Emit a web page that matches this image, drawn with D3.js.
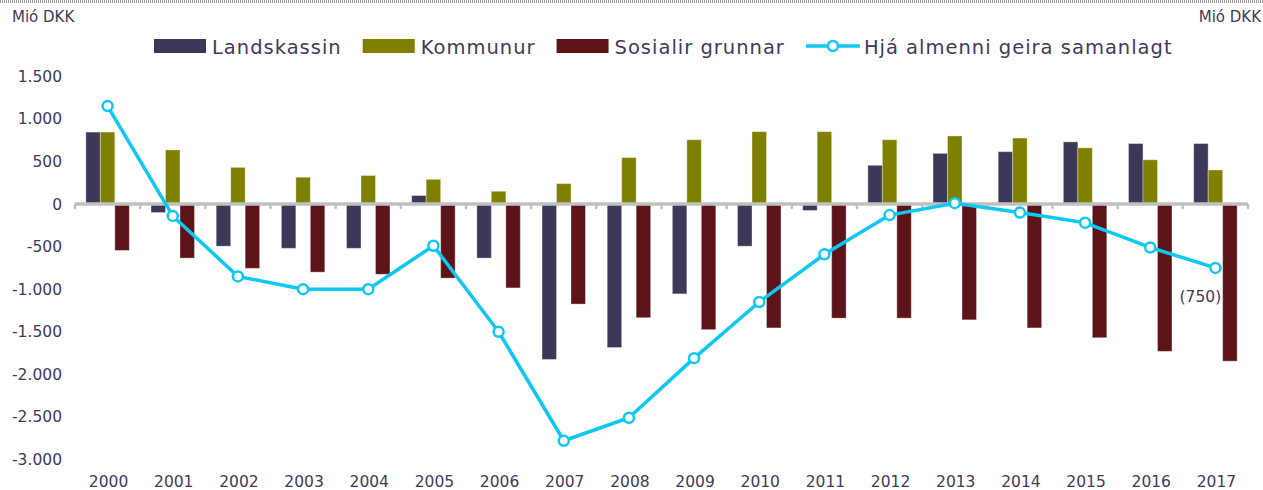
<!DOCTYPE html>
<html>
<head>
<meta charset="utf-8">
<script src="https://cdn.jsdelivr.net/npm/d3@7"></script>
<style>
  body { margin: 0; background: #fff; }
  text { font-family: "DejaVu Sans", Verdana, sans-serif; fill: #403b5c; }
</style>
</head>
<body>
<svg id="mainSVG" width="1263" height="490"></svg>
<script>
// Data (Mió DKK)
var years = ["2000","2001","2002","2003","2004","2005","2006","2007","2008","2009","2010","2011","2012","2013","2014","2015","2016","2017"];
var landskassin = [845, -100, -495, -520, -520, 100, -635, -1825, -1685, -1055, -495, -75, 455, 595, 615, 730, 710, 710];
var kommunur = [845, 635, 430, 315, 335, 290, 150, 240, 545, 755, 850, 850, 755, 800, 775, 660, 520, 400];
var sosialir = [-545, -635, -755, -800, -825, -870, -985, -1175, -1335, -1475, -1455, -1340, -1340, -1360, -1455, -1570, -1730, -1845];
var samanlagt = [1150, -140, -850, -1000, -1000, -490, -1500, -2780, -2510, -1810, -1150, -590, -130, 10, -100, -220, -510, -750];
var yTicks = [-3000, -2500, -2000, -1500, -1000, -500, 0, 500, 1000, 1500];
var seriesNames = ["Landskassin", "Kommunur", "Sosialir grunnar"];
var lineName = "Hjá almenni geira samanlagt";

var colors = { "Landskassin": "#3c3857", "Kommunur": "#808000", "Sosialir grunnar": "#5c1419" };
var lineColor = "#0cc8f2";
var axisGrey = "#c0c0c0";

var mainSVG = d3.select("#mainSVG");

// dotted strip at the very top
mainSVG.append("line")
  .attr("x1", 0).attr("x2", 1263).attr("y1", 1.5).attr("y2", 1.5)
  .attr("stroke", "#9a9a9a").attr("stroke-width", 3).attr("stroke-dasharray", "1,1");

// scales
var plotLeft = 75, plotRight = 1248;
var x0 = d3.scaleBand().domain(years).range([plotLeft, plotRight]).paddingInner(1/3).paddingOuter(1/6);
var step = x0.step();
var x1 = d3.scaleBand().domain(seriesNames).range([0, x0.bandwidth()]);
var y = d3.scaleLinear().domain([-3000, 1500]).range([459.5, 76.3]);

var loc = d3.formatLocale({ decimal: ",", thousands: ".", grouping: [3], currency: ["", " kr"], minus: "-" });
var fmt = loc.format(",d");

// units
mainSVG.append("text").attr("x", 12).attr("y", 22).style("font-size", "15px").text("Mió DKK");
mainSVG.append("text").attr("x", 1261).attr("y", 22).attr("text-anchor", "end").style("font-size", "15px").text("Mió DKK");

// y axis labels (no line)
var yAxis = d3.axisLeft(y).tickValues(yTicks).tickFormat(fmt).tickSize(0).tickPadding(0);
var yAxisGroup = mainSVG.append("g").attr("transform", "translate(62,0)").call(yAxis);
yAxisGroup.select(".domain").remove();
yAxisGroup.selectAll("text")
  .attr("fill", null)
  .style("font-size", "15.5px")
  .style("font-family", "'DejaVu Sans', Verdana, sans-serif");

// bars
var rows = years.map(function (yr, i) {
  return { year: yr, values: [
    { name: "Landskassin", v: landskassin[i] },
    { name: "Kommunur", v: kommunur[i] },
    { name: "Sosialir grunnar", v: sosialir[i] } ] };
});

var groups = mainSVG.selectAll(".grp")
  .data(rows)
  .enter().append("g")
  .attr("class", "grp")
  .attr("transform", function (d) { return "translate(" + x0(d.year) + ",0)"; });

groups.selectAll("rect")
  .data(function (d) { return d.values; })
  .enter().append("rect")
  .attr("x", function (d) { return x1(d.name); })
  .attr("width", x1.bandwidth())
  .attr("y", function (d) { return y(Math.max(0, d.v)); })
  .attr("height", function (d) { return Math.abs(y(d.v) - y(0)); })
  .attr("fill", function (d) { return colors[d.name]; })
  .attr("stroke", "#ffffff").attr("stroke-opacity", 0.35).attr("stroke-width", 1);

// zero axis line with small ticks between the categories
var y0 = y(0);
mainSVG.append("line")
  .attr("x1", plotLeft).attr("x2", plotRight).attr("y1", y0).attr("y2", y0)
  .attr("stroke", axisGrey).attr("stroke-width", 3.5);
mainSVG.selectAll(".xtick")
  .data(d3.range(years.length + 1))
  .enter().append("line")
  .attr("class", "xtick")
  .attr("x1", function (i) { return plotLeft + i * step; })
  .attr("x2", function (i) { return plotLeft + i * step; })
  .attr("y1", y0 + 1).attr("y2", y0 + 4)
  .attr("stroke", axisGrey).attr("stroke-width", 2.5).attr("stroke-linecap", "round");

// year labels
mainSVG.selectAll(".xlab")
  .data(years)
  .enter().append("text")
  .attr("class", "xlab")
  .attr("x", function (d) { return x0(d) + x0.bandwidth() / 2 + 1; })
  .attr("y", 487)
  .attr("text-anchor", "middle")
  .style("font-size", "15.5px")
  .text(function (d) { return d; });

// total line with markers
var cx = function (d, i) { return x0(years[i]) + x0.bandwidth() / 2; };
var line = d3.line().x(cx).y(function (d) { return y(d); });
mainSVG.append("path")
  .datum(samanlagt)
  .attr("d", line)
  .attr("fill", "none")
  .attr("stroke", lineColor)
  .attr("stroke-width", 3.5)
  .attr("stroke-linejoin", "round");
mainSVG.selectAll(".pt")
  .data(samanlagt)
  .enter().append("circle")
  .attr("class", "pt")
  .attr("cx", cx)
  .attr("cy", function (d) { return y(d); })
  .attr("r", 5)
  .attr("fill", "#fff")
  .attr("stroke", lineColor)
  .attr("stroke-width", 2.5);

// data label on the last point
var last = samanlagt.length - 1;
mainSVG.append("text")
  .attr("x", cx(samanlagt[last], last) - 15)
  .attr("y", y(samanlagt[last]) + 34)
  .attr("text-anchor", "middle")
  .style("font-size", "15.5px")
  .text("(" + fmt(Math.abs(samanlagt[last])) + ")");

// legend
var legend = mainSVG.append("g").attr("class", "legend");
var lx = 154, ly = 46;
var items = seriesNames.concat([lineName]);
items.forEach(function (name, i) {
  var g = legend.append("g").attr("transform", "translate(" + lx + "," + ly + ")");
  if (i < seriesNames.length) {
    g.append("rect").attr("x", 0).attr("y", -7).attr("width", 52).attr("height", 14).attr("fill", colors[name]);
  } else {
    g.append("line").attr("x1", 0).attr("x2", 54).attr("y1", 0).attr("y2", 0)
      .attr("stroke", lineColor).attr("stroke-width", 3.5);
    g.append("circle").attr("cx", 27).attr("cy", 0).attr("r", 5)
      .attr("fill", "#fff").attr("stroke", lineColor).attr("stroke-width", 2.5);
  }
  var t = g.append("text")
    .attr("x", 58).attr("y", 7.5)
    .style("font-size", "19.5px")
    .style("letter-spacing", "1px")
    .text(name);
  lx += 58 + t.node().getComputedTextLength() + 21;
});
</script>
</body>
</html>
